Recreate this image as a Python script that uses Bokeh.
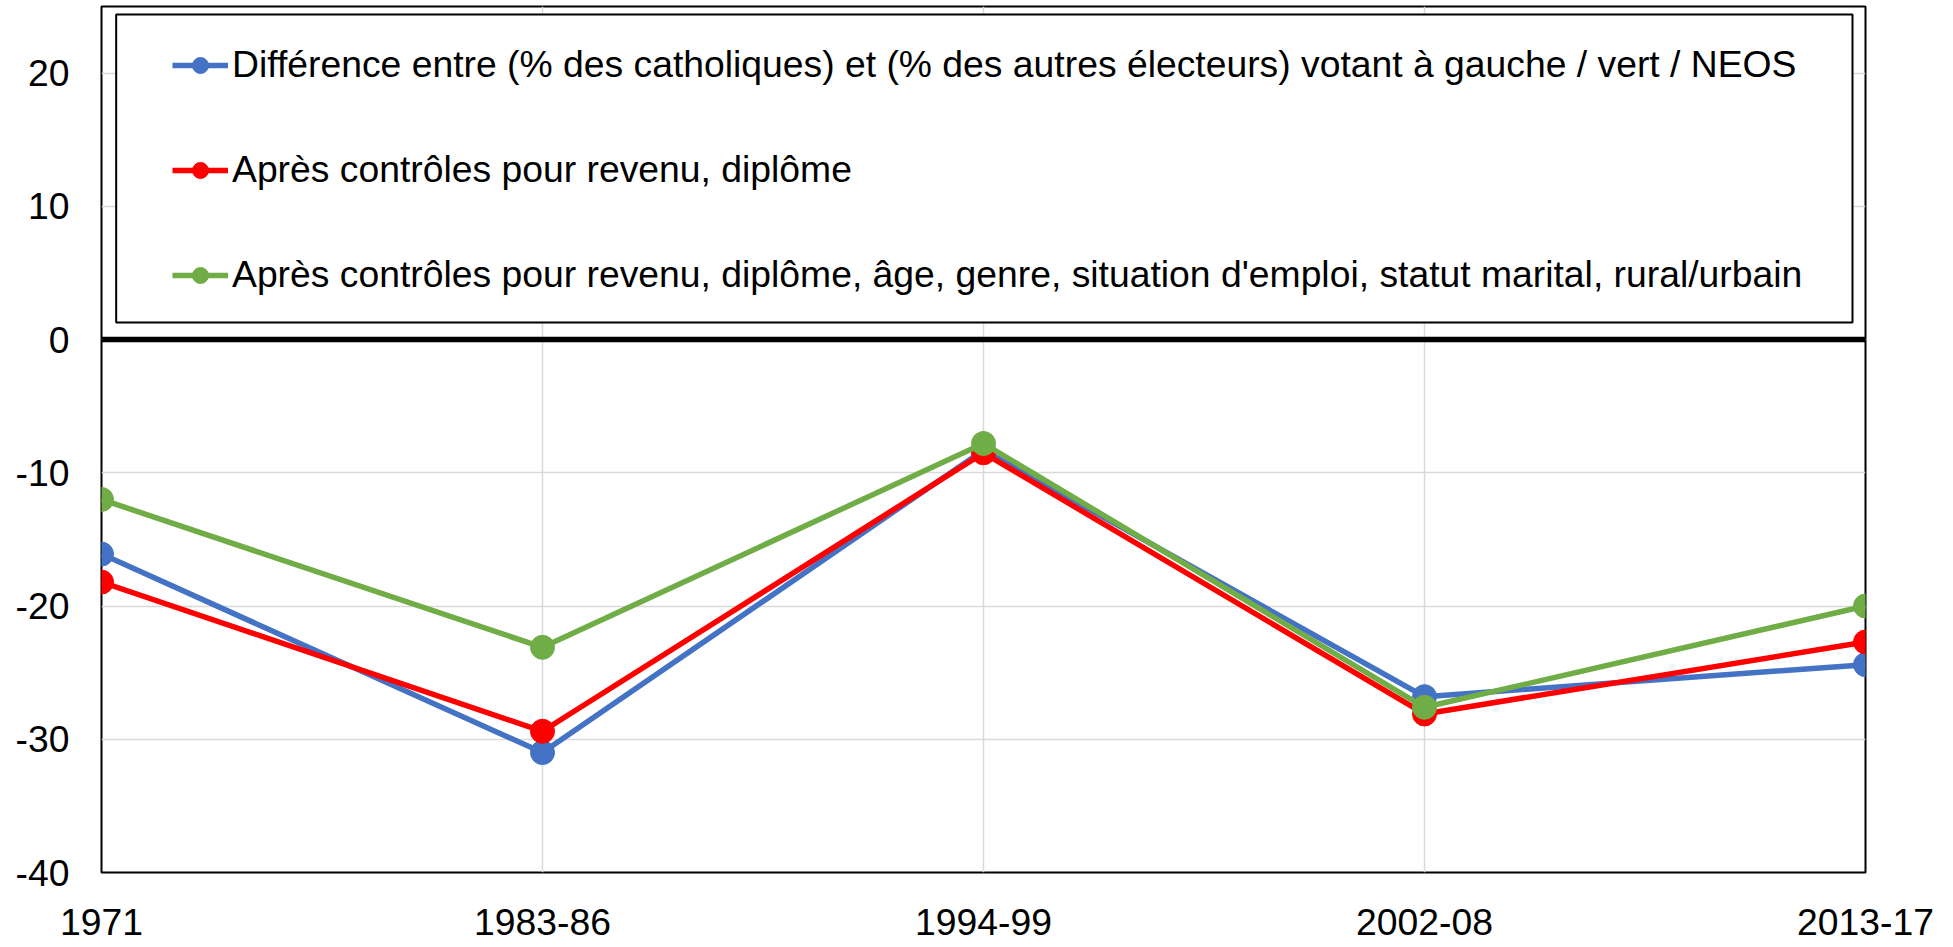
from bokeh.plotting import figure
from bokeh.models import (Range1d, FixedTicker, Span, BoxAnnotation, Legend, LegendItem,
                          ColumnDataSource)
from bokeh.embed import file_html
from bokeh.resources import INLINE

periods = ["1971", "1983-86", "1994-99", "2002-08", "2013-17"]
catholic_gap = [-16.1, -31.0, -8.3, -26.8, -24.4]
ctrl_income_edu = [-18.2, -29.4, -8.5, -28.1, -22.7]
ctrl_all = [-12.0, -23.1, -7.8, -27.6, -20.0]
y_ticks = [-40, -30, -20, -10, 0, 10, 20]
y_tick_labels = ["-40", "-30", "-20", "-10", "0", "10", "20"]

labels = [
    "Différence entre (% des catholiques) et (% des autres électeurs) votant à gauche / vert / NEOS",
    "Après contrôles pour revenu, diplôme",
    "Après contrôles pour revenu, diplôme, âge, genre, situation d'emploi, statut marital, rural/urbain",
]
colors = ["#4472C4", "#FF0000", "#70AD47"]

FONT = "Liberation Sans"
FS = "37.3px"

xs = list(range(len(periods)))

p = figure(output_backend="svg", toolbar_location=None,
           x_range=Range1d(0, len(periods) - 1), y_range=Range1d(-40, 25),
           frame_width=1764, frame_height=866,
           min_border_left=101, min_border_right=85, min_border_top=6, min_border_bottom=74)

p.background_fill_color = "white"
p.border_fill_color = "white"
p.outline_line_color = "black"
p.outline_line_width = 2

p.xaxis.ticker = FixedTicker(ticks=xs)
p.xaxis.major_label_overrides = {i: s for i, s in enumerate(periods)}
p.yaxis.ticker = FixedTicker(ticks=y_ticks)
p.yaxis.major_label_overrides = {v: s for v, s in zip(y_ticks, y_tick_labels)}
for ax in (p.xaxis[0], p.yaxis[0]):
    ax.axis_line_color = None
    ax.major_tick_line_color = None
    ax.minor_tick_line_color = None
    ax.major_tick_out = 0
    ax.major_tick_in = 0
    ax.minor_tick_out = 0
    ax.major_label_text_font = FONT
    ax.major_label_text_font_size = FS
    ax.major_label_text_color = "black"
p.yaxis.major_label_standoff = 32
p.xaxis.major_label_standoff = 36

p.xgrid.ticker = FixedTicker(ticks=xs)
p.ygrid.ticker = FixedTicker(ticks=y_ticks)
for g in (p.xgrid[0], p.ygrid[0]):
    g.grid_line_color = "#D9D9D9"
    g.grid_line_width = 1.5

p.add_layout(Span(location=0, dimension="width", line_color="black", line_width=5.5))

items = []
for vals, col, lab in zip([catholic_gap, ctrl_income_edu, ctrl_all], colors, labels):
    src = ColumnDataSource(dict(x=xs, y=vals))
    r1 = p.line("x", "y", source=src, line_color=col, line_width=5.5)
    r2 = p.scatter("x", "y", source=src, size=24, fill_color=col, line_color=col)
    items.append(LegendItem(label=lab, renderers=[r1, r2]))

box = BoxAnnotation(left=0.0333, right=3.9705, top=24.4, bottom=1.28,
                    fill_color="white", fill_alpha=1.0, line_color="black",
                    line_alpha=1.0, line_width=2)
p.add_layout(box)

legend = Legend(items=items, location=(71, 576), padding=0, margin=0,
                spacing=62, label_height=40, glyph_height=40, glyph_width=56,
                label_standoff=4, label_text_font=FONT, label_text_font_size=FS,
                label_text_color="black", border_line_alpha=0, background_fill_alpha=0)
p.add_layout(legend)

open("out.html", "w").write(file_html(p, INLINE))
